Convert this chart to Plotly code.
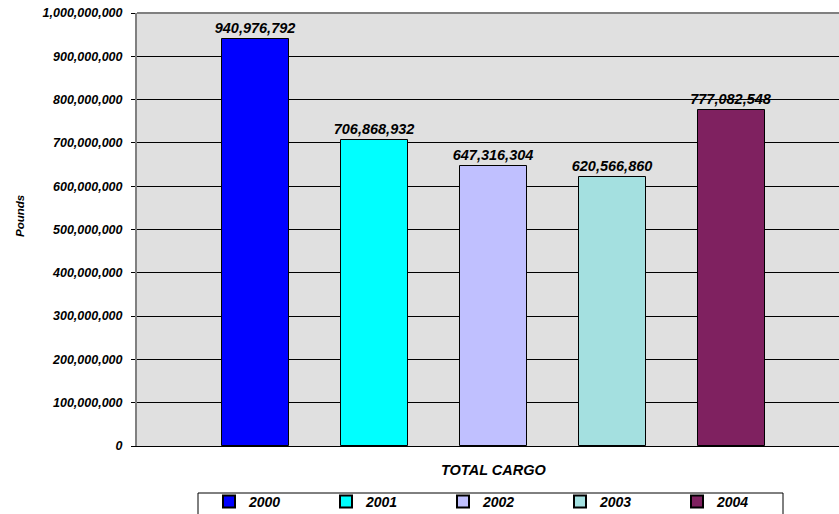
import plotly.graph_objects as go

# Total cargo by year (pounds)
years = ["2000", "2001", "2002", "2003", "2004"]
pounds = [940976792, 706868932, 647316304, 620566860, 777082548]
colors = ["#0000FF", "#00FFFF", "#C0C0FF", "#A4E0E0", "#7F2160"]
y_ticks = list(range(0, 1000000001, 100000000))

font_family = "Liberation Sans, Arial, sans-serif"

# plotting area in pixels
W, H = 839, 514
PL, PR, PT, PB = 137, 839, 13, 446


def px_x(p):
    return (p - PL) / (PR - PL)


def px_y(p):
    return (PB - p) / (PB - PT)


fig = go.Figure()
for i, (yr, val, col) in enumerate(zip(years, pounds, colors)):
    fig.add_trace(go.Bar(
        x=[i], y=[val], name=f"<b><i>{yr}</i></b>", width=0.563,
        marker=dict(color=col, line=dict(color="#000000", width=1)),
        text=[f"<b><i>{val:,}</i></b>"], textposition="outside",
        constraintext="none",
        textfont=dict(family=font_family, size=14.5, color="#000000"),
        cliponaxis=False,
    ))

fig.update_layout(
    width=W, height=H,
    margin=dict(l=PL, r=W - PR, t=PT, b=H - PB),
    paper_bgcolor="#FFFFFF",
    plot_bgcolor="#E0E0E0",
    font=dict(family=font_family, color="#000000"),
    showlegend=True,
    legend=dict(
        orientation="h",
        xref="container", yref="container",
        x=209/W, y=1 - 486/H,
        xanchor="left", yanchor="top",
        entrywidth=72, entrywidthmode="pixels",
        bgcolor="rgba(0,0,0,0)", borderwidth=0,
        font=dict(family=font_family, size=14, color="#000000"),
        itemsizing="constant", traceorder="normal",
    ),
    bargap=0,
)

fig.update_xaxes(
    range=[-1, 4.9], showticklabels=False, ticks="",
    showgrid=False, zeroline=False,
    showline=True, linecolor="#000000", linewidth=1, mirror=False,
)
fig.update_yaxes(
    range=[0, 1000000000],
    tickvals=y_ticks,
    ticktext=[f"<b><i>{v:,}</i></b>" for v in y_ticks],
    tickfont=dict(family=font_family, size=12.5, color="#000000"),
    ticks="outside", ticklen=4, tickcolor="#000000", tickwidth=1,
    ticklabelstandoff=6,
    showgrid=True, gridcolor="#000000", gridwidth=1,
    zeroline=False,
    showline=True, linecolor="#808080", linewidth=2,
)

# top border of the plotting area
fig.add_shape(type="line", xref="paper", yref="paper", x0=0, x1=1, y0=1, y1=1,
              line=dict(color="#808080", width=2))

# legend frame
fig.add_shape(type="rect", xref="paper", yref="paper",
              x0=px_x(198), x1=px_x(783), y0=px_y(493), y1=px_y(522),
              line=dict(color="#000000", width=1), fillcolor="#FFFFFF",
              layer="above")

fig.add_annotation(
    text="<b><i>TOTAL CARGO</i></b>", x=2, y=0, xref="x", yref="paper",
    yshift=-24, yanchor="middle", showarrow=False,
    font=dict(family=font_family, size=14.5, color="#000000"),
)

fig.add_annotation(
    text="<b><i>Pounds</i></b>", x=px_x(20), y=px_y(216), xref="paper", yref="paper",
    textangle=-90, showarrow=False, xanchor="center", yanchor="middle",
    font=dict(family=font_family, size=11.5, color="#000000"),
)

fig.write_html("out.html")
